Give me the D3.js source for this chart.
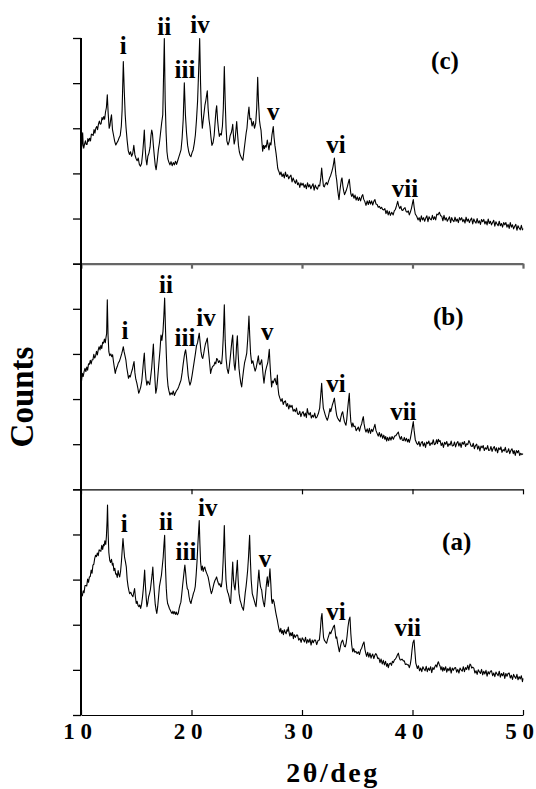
<!DOCTYPE html>
<html>
<head>
<meta charset="utf-8">
<script src="https://d3js.org/d3.v7.min.js"></script>
<style>
	body { margin: 0; background: #fff; }
	text { font-family: "Liberation Serif", "Times New Roman", serif; font-weight: bold; fill: #000; }
</style>
</head>
<body>
<svg id="svgChart" width="536" height="789"></svg>
<script>
// shared x axis (2theta in deg)
var thetaTicks = [10, 20, 30, 40, 50];
// unlabelled count ticks, same for every panel
var countTicks = [0, 100, 200, 300, 400, 500];
var peakNames = ["i", "ii", "iii", "iv", "v", "vi", "vii"];
var panelNames = ["(c)", "(b)", "(a)"];

// pattern (c), top panel : [2theta, counts]
var countsC = [
	[10.0,237],[10.05,255],[10.1,268],[10.15,290],[10.2,262],[10.25,256],[10.32,265],[10.4,272],[10.48,264],[10.55,264],
	[10.62,277],[10.7,271],[10.78,278],[10.86,272],[10.94,287],[11.02,286],[11.1,284],[11.18,297],[11.26,289],[11.34,300],
	[11.42,304],[11.5,297],[11.58,309],[11.66,316],[11.74,309],[11.82,310],[11.9,324],[11.98,319],[12.06,326],[12.14,320],
	[12.22,336],[12.3,346],[12.38,374],[12.46,333],[12.55,300],[12.62,306],[12.7,322],
	[12.76,330],[12.85,297],[12.95,284],[13.05,271],[13.15,263],[13.25,268],[13.35,272],[13.45,279],[13.55,284],[13.65,305],
	[13.72,340],[13.83,448],[13.92,380],[14.0,330],[14.08,300],[14.18,272],[14.28,250],[14.38,242],[14.48,248],[14.58,238],
	[14.68,244],[14.78,262],[14.88,241],[14.98,233],[15.08,228],[15.18,234],[15.28,220],[15.38,216],[15.48,222],[15.58,245],
	[15.66,270],[15.73,296],[15.8,258],[15.88,232],[15.96,219],[16.05,238],[16.15,245],[16.25,258],[16.33,283],[16.4,296],
	[16.47,288],[16.55,262],[16.63,240],[16.72,218],[16.8,208],[16.9,228],[17.0,252],[17.1,268],[17.2,290],[17.3,312],
	[17.4,330],[17.54,499],[17.62,360],[17.7,290],[17.78,248],[17.86,232],[17.95,225],[18.05,219],[18.15,226],[18.25,217],
	[18.35,224],[18.45,219],[18.55,227],[18.65,220],[18.75,228],[18.85,236],[18.95,244],[19.05,252],[19.15,278],[19.25,320],
	[19.35,401],[19.45,330],[19.55,290],[19.65,262],[19.75,248],[19.85,240],[19.95,237],[20.05,246],[20.15,252],[20.25,266],
	[20.35,285],[20.45,318],[20.55,360],[20.65,430],[20.74,499],[20.82,400],[20.9,330],[20.98,300],[21.06,318],[21.14,335],
	[21.22,352],[21.3,362],[21.38,375],[21.43,383],[21.5,345],[21.58,320],[21.67,304],[21.76,280],[21.85,262],[21.95,268],
	[22.05,284],[22.15,318],[22.22,340],[22.28,350],[22.36,318],[22.45,295],[22.52,282],[22.6,288],[22.7,285],[22.8,305],
	[22.88,345],[22.97,437],[23.05,360],[23.13,300],[23.2,272],[23.3,263],[23.4,270],[23.5,284],[23.6,290],[23.68,300],
	[23.73,309],[23.8,282],[23.86,265],[23.94,274],[24.02,296],[24.09,315],[24.16,290],[24.25,262],[24.33,248],[24.42,240],
	[24.5,236],[24.58,232],[24.65,229],[24.75,250],[24.85,270],[24.95,290],[25.02,300],[25.1,325],[25.2,347],[25.28,320],
	[25.38,322],[25.48,305],[25.6,315],[25.7,300],[25.81,311],[25.9,345],[25.99,413],[26.06,360],[26.15,318],[26.22,305],
	[26.29,296],[26.37,270],[26.44,249],[26.52,262],[26.6,255],[26.68,262],[26.76,258],[26.86,274],[26.94,262],[27.01,252],
	[27.1,268],[27.19,263],[27.28,285],[27.35,296],[27.4,304],[27.47,280],[27.55,262],[27.65,245],[27.73,228],[27.8,212],
	[27.86,207],[27.93,203],[28.0,197],[28.1,203],[28.2,193],[28.3,199],[28.4,190],[28.5,203],[28.6,193],[28.7,197],
	[28.8,188],[28.9,193],[29.0,196],[29.1,181],[29.2,190],[29.3,183],[29.4,178],[29.5,186],[29.6,175],[29.7,179],
	[29.8,169],[29.9,179],[30.0,174],[30.1,178],[30.2,169],[30.3,175],[30.4,166],[30.5,179],[30.6,170],[30.7,175],
	[30.8,166],[30.9,172],[31.0,177],[31.1,163],[31.2,174],[31.3,168],[31.4,165],[31.5,174],[31.6,172],[31.7,190],
	[31.78,212],[31.86,190],[31.94,172],[32.02,170],[32.1,176],
	[32.2,180],[32.3,175],[32.4,183],[32.5,190],[32.6,196],[32.7,204],[32.8,214],[32.86,222],[32.93,234],[33.0,215],
	[33.07,196],[33.14,185],[33.22,165],[33.3,150],[33.35,142],[33.42,160],[33.5,175],[33.56,186],[33.62,190],[33.7,172],
	[33.78,160],[33.85,153],[33.9,156],[34.0,162],[34.1,170],[34.2,180],[34.28,187],[34.35,170],[34.42,155],[34.5,149],
	[34.6,155],[34.7,145],[34.8,152],[34.9,141],[35.0,148],[35.1,140],[35.2,147],[35.3,139],[35.42,150],[35.5,153],
	[35.58,143],[35.68,138],[35.79,129],[35.9,139],[36.0,131],[36.1,140],[36.2,132],[36.3,139],[36.4,130],[36.5,138],
	[36.6,142],[36.7,132],[36.8,131],[36.9,125],[37.0,127],[37.1,122],[37.2,125],[37.3,120],[37.4,119],[37.5,122],
	[37.6,111],[37.7,118],[37.8,108],[37.9,116],[38.0,107],[38.12,114],[38.25,108],[38.35,117],[38.45,120],[38.55,128],
	[38.66,138],[38.75,128],[38.85,122],[38.95,127],[39.02,119],[39.12,118],[39.22,122],[39.32,124],[39.42,116],[39.52,114],
	[39.62,117],[39.71,108],[39.8,114],[39.9,122],[40.0,134],[40.07,142],[40.15,125],[40.25,110],[40.38,105],[40.5,97],
	[40.6,102],[40.7,93],[40.8,106],[40.9,97],[41.0,102],[41.1,94],[41.2,101],[41.3,106],[41.4,93],[41.5,104],
	[41.6,99],[41.7,97],[41.8,107],[41.9,98],[42.0,104],[42.1,97],[42.2,110],[42.3,108],[42.43,114],[42.55,106],
	[42.65,105],[42.75,95],[42.85,107],[42.95,97],[43.05,102],[43.15,94],[43.25,99],[43.35,104],[43.45,91],[43.55,102],
	[43.65,96],[43.75,93],[43.85,103],[43.95,94],[44.05,99],[44.15,91],[44.25,102],[44.35,97],[44.45,102],[44.55,93],
	[44.65,98],[44.75,90],[44.85,103],[44.95,94],[45.05,99],[45.15,91],[45.25,97],[45.35,101],[45.45,88],[45.55,99],
	[45.65,93],[45.75,90],[45.85,100],[45.95,90],[46.05,95],[46.15,87],[46.25,98],[46.35,93],[46.45,98],[46.55,88],
	[46.65,94],[46.75,86],[46.85,99],[46.95,89],[47.05,94],[47.15,86],[47.25,91],[47.35,96],[47.45,83],[47.55,93],
	[47.65,88],[47.75,84],[47.85,94],[47.95,84],[48.05,89],[48.15,81],[48.25,91],[48.35,86],[48.45,91],[48.55,81],
	[48.65,87],[48.75,78],[48.85,91],[48.95,81],[49.05,86],[49.15,77],[49.25,83],[49.35,87],[49.45,74],[49.55,84],
	[49.65,79],[49.75,75],[49.85,85],[49.95,75],[50.0,78]
];

// pattern (b), middle panel
var countsB = [
	[10.0,231],[10.06,243],[10.12,257],[10.2,250],[10.28,261],[10.36,268],[10.44,261],[10.52,271],[10.6,264],[10.68,278],
	[10.76,277],[10.84,286],[10.92,278],[11.0,287],[11.08,287],[11.16,299],[11.24,291],[11.32,295],[11.4,306],[11.48,298],
	[11.56,309],[11.64,316],[11.72,309],[11.8,319],[11.88,312],[11.96,326],[12.04,324],[12.12,333],[12.2,325],[12.26,336],
	[12.32,345],[12.38,420],[12.45,340],[12.52,305],[12.6,296],[12.7,300],
	[12.78,294],[12.86,298],[12.95,281],[13.03,268],[13.1,257],[13.18,266],[13.28,272],[13.38,280],[13.48,284],[13.58,292],
	[13.68,300],[13.76,308],[13.83,316],[13.9,305],[13.98,296],[14.06,287],[14.14,270],[14.22,258],[14.3,246],[14.38,252],
	[14.46,249],[14.55,258],[14.65,266],[14.73,276],[14.8,283],[14.88,258],[14.96,244],[15.05,236],[15.14,225],[15.22,213],
	[15.3,218],[15.4,226],[15.5,240],[15.58,262],[15.66,285],[15.73,302],[15.8,268],[15.88,245],[15.96,231],[16.05,240],
	[16.13,236],[16.22,232],[16.3,248],[16.4,270],[16.48,298],[16.55,322],[16.62,280],[16.7,240],[16.77,213],[16.86,225],
	[16.95,250],[17.05,280],[17.15,308],[17.24,342],[17.32,330],[17.42,350],[17.5,385],[17.57,424],[17.64,360],[17.72,300],
	[17.8,250],[17.88,228],[17.96,218],[18.05,209],[18.15,214],[18.25,210],[18.35,218],[18.45,208],[18.55,214],[18.65,219],
	[18.75,222],[18.85,228],[18.95,235],[19.05,242],[19.15,258],[19.25,278],[19.35,296],[19.42,305],[19.47,309],[19.54,295],
	[19.62,275],[19.7,252],[19.78,240],[19.86,231],[19.95,238],[20.05,252],[20.15,268],[20.25,284],[20.35,300],[20.45,318],
	[20.55,325],[20.62,335],[20.7,346],[20.78,325],[20.86,305],[20.94,294],[21.02,290],[21.1,300],[21.18,312],[21.26,322],
	[21.34,328],[21.43,335],[21.5,315],[21.58,296],[21.66,275],[21.73,257],[21.8,265],[21.9,272],[22.04,275],[22.12,282],
	[22.2,278],[22.28,290],[22.37,287],[22.45,281],[22.55,285],[22.65,278],[22.73,279],[22.8,300],[22.88,340],[22.97,409],
	[23.05,330],[23.13,290],[23.22,268],[23.33,257],[23.42,272],[23.5,290],[23.58,310],[23.66,330],[23.73,342],[23.8,300],
	[23.87,275],[23.94,264],[24.02,290],[24.08,320],[24.15,340],[24.22,300],[24.3,268],[24.38,250],[24.46,236],[24.54,227],
	[24.62,245],[24.7,262],[24.8,280],[24.9,290],[25.0,302],[25.08,330],[25.15,360],[25.2,384],[25.27,340],[25.35,300],
	[25.45,279],[25.55,285],[25.66,272],[25.76,262],[25.86,270],[25.95,282],[26.05,296],[26.12,280],[26.2,276],[26.28,282],
	[26.35,287],[26.42,270],[26.5,248],[26.56,235],[26.63,250],[26.7,262],[26.8,272],[26.9,280],[26.98,296],[27.04,310],
	[27.1,280],[27.17,252],[27.25,227],[27.32,240],[27.4,236],[27.48,242],[27.56,246],[27.62,238],[27.7,232],[27.77,253],
	[27.83,225],[27.9,210],[28.0,202],[28.1,195],[28.2,201],[28.3,188],[28.4,194],[28.5,196],[28.6,184],[28.7,190],
	[28.8,178],[28.9,187],[29.0,182],[29.1,186],[29.2,173],[29.3,177],[29.4,172],[29.5,180],[29.6,167],[29.7,166],
	[29.8,173],[29.9,161],[30.0,169],[30.1,172],[30.2,162],[30.3,169],[30.4,159],[30.48,179],[30.56,169],[30.65,165],
	[30.75,170],[30.85,158],[30.95,164],[31.05,160],[31.15,169],[31.25,158],[31.35,160],[31.48,168],[31.6,180],[31.7,210],
	[31.78,235],[31.85,205],[31.93,180],[32.02,172],[32.1,165],[32.2,158],[32.29,153],[32.38,160],[32.46,170],[32.53,179],
	[32.6,172],[32.68,180],[32.76,188],[32.85,195],[32.93,202],[33.0,188],[33.07,175],[33.14,164],[33.22,158],[33.3,155],
	[33.37,152],[33.44,150],[33.52,160],[33.6,168],[33.68,172],[33.76,160],[33.84,150],[33.92,145],[33.98,142],[34.05,155],
	[34.12,175],[34.2,195],[34.28,213],[34.35,175],[34.42,150],[34.52,138],[34.6,147],[34.7,139],[34.8,140],[34.9,130],
	[35.0,134],[35.1,138],[35.2,129],[35.3,139],[35.4,145],[35.48,155],[35.55,161],[35.62,145],[35.7,134],[35.79,127],
	[35.9,134],[36.0,125],[36.1,135],[36.2,124],[36.3,133],[36.4,128],[36.5,136],[36.6,144],[36.7,130],[36.8,124],
	[36.9,118],[37.0,126],[37.1,116],[37.2,123],[37.3,113],[37.4,120],[37.5,111],[37.58,117],[37.66,107],[37.75,115],
	[37.85,108],[37.95,116],[38.05,109],[38.15,117],[38.27,111],[38.38,118],[38.5,119],[38.6,123],[38.72,127],[38.8,118],
	[38.9,111],[39.0,117],[39.08,109],[39.17,108],[39.26,115],[39.35,107],[39.45,113],[39.55,105],[39.63,111],[39.71,104],
	[39.8,112],[39.9,125],[40.0,140],[40.07,150],[40.15,130],[40.25,110],[40.38,102],[40.48,99],[40.58,106],[40.68,95],
	[40.78,103],[40.88,106],[40.98,96],[41.08,103],[41.18,93],[41.28,105],[41.38,101],[41.48,107],[41.58,97],[41.68,103],
	[41.78,100],[41.88,110],[41.98,99],[42.08,101],[42.18,110],[42.26,101],[42.34,111],[42.42,106],[42.5,108],[42.6,97],
	[42.7,103],[42.8,93],[42.9,104],[43.0,100],[43.1,106],[43.2,95],[43.3,101],[43.4,98],[43.5,107],[43.6,96],
	[43.7,97],[43.8,105],[43.9,94],[44.0,102],[44.1,106],[44.2,96],[44.3,103],[44.4,93],[44.5,104],[44.6,100],
	[44.7,106],[44.8,95],[44.9,101],[45.0,99],[45.1,108],[45.2,103],[45.3,96],[45.4,95],[45.5,102],[45.6,90],
	[45.7,97],[45.81,100],[45.9,89],[46.0,96],[46.1,85],[46.2,96],[46.3,92],[46.4,97],[46.5,86],[46.6,92],
	[46.71,89],[46.8,97],[46.9,86],[47.0,87],[47.1,95],[47.2,84],[47.3,91],[47.4,95],[47.5,85],[47.6,92],
	[47.7,81],[47.8,92],[47.92,88],[48.0,94],[48.1,82],[48.2,88],[48.3,85],[48.4,93],[48.5,82],[48.6,83],
	[48.7,90],[48.8,79],[48.9,86],[49.0,90],[49.12,79],[49.2,86],[49.3,75],[49.4,86],[49.5,81],[49.6,86],
	[49.7,75],[49.8,80],[49.9,77],[50.0,79]
];

// pattern (a), bottom panel
var countsA = [
	[10.0,247],[10.06,268],[10.12,264],[10.2,275],[10.28,271],[10.36,287],[10.44,287],[10.52,286],[10.6,301],[10.68,294],
	[10.76,306],[10.84,307],[10.92,321],[11.0,314],[11.08,332],[11.16,334],[11.24,347],[11.32,354],[11.4,351],[11.48,359],
	[11.56,353],[11.64,366],[11.72,364],[11.8,363],[11.88,376],[11.96,367],[12.04,378],[12.1,375],[12.16,386],[12.24,378],
	[12.3,396],[12.36,430],[12.4,465],[12.46,400],[12.52,360],[12.6,343],[12.68,338],[12.76,345],[12.84,332],[12.9,336],
	[12.98,320],[13.06,325],[13.14,312],[13.2,313],[13.28,305],[13.36,320],[13.44,310],[13.5,306],[13.58,318],[13.66,340],
	[13.74,370],[13.8,391],[13.87,370],[13.94,350],[14.02,340],[14.1,328],[14.18,300],[14.26,285],[14.34,275],[14.4,269],
	[14.5,272],[14.6,266],[14.7,262],[14.78,272],[14.85,280],[14.92,262],[15.0,247],[15.08,252],[15.16,243],[15.24,240],
	[15.32,244],[15.4,236],[15.48,245],[15.56,260],[15.64,280],[15.7,300],[15.76,321],[15.82,290],[15.9,260],[15.97,240],
	[16.04,248],[16.12,262],[16.2,269],[16.28,278],[16.36,295],[16.44,312],[16.5,328],[16.56,300],[16.64,270],[16.72,245],
	[16.8,232],[16.86,225],[16.94,240],[17.02,262],[17.1,285],[17.2,299],[17.28,310],[17.36,330],[17.44,350],[17.5,375],
	[17.57,398],[17.64,330],[17.72,280],[17.78,258],[17.84,247],[17.92,242],[18.0,236],[18.08,232],[18.16,228],[18.24,225],
	[18.32,230],[18.4,224],[18.48,229],[18.56,223],[18.64,228],[18.72,222],[18.8,225],[18.88,236],[18.96,244],[19.04,250],
	[19.12,268],[19.2,288],[19.28,306],[19.34,320],[19.4,332],[19.47,315],[19.55,292],[19.62,280],[19.7,277],[19.78,262],
	[19.86,252],[19.95,247],[20.02,255],[20.1,262],[20.18,270],[20.26,275],[20.34,285],[20.42,310],[20.5,340],[20.58,380],
	[20.65,410],[20.7,431],[20.76,380],[20.82,340],[20.9,321],[20.98,330],[21.06,318],[21.14,326],[21.2,328],[21.28,320],
	[21.36,315],[21.44,310],[21.5,306],[21.58,296],[21.66,285],[21.74,275],[21.8,269],[21.88,275],[21.96,284],[22.04,292],
	[22.12,298],[22.2,302],[22.27,306],[22.35,298],[22.43,292],[22.5,288],[22.57,291],[22.64,284],[22.7,284],[22.78,300],
	[22.86,340],[22.92,380],[22.97,420],[23.04,350],[23.12,300],[23.2,280],[23.27,272],[23.33,269],[23.4,262],[23.47,252],
	[23.54,247],[23.6,275],[23.67,310],[23.73,339],[23.8,300],[23.87,285],[23.94,277],[24.0,295],[24.08,320],[24.15,343],
	[24.22,300],[24.3,270],[24.4,254],[24.48,248],[24.56,240],[24.64,236],[24.7,232],[24.78,250],[24.86,270],[24.94,285],
	[25.0,299],[25.08,320],[25.16,350],[25.22,380],[25.26,398],[25.32,350],[25.4,300],[25.5,269],[25.58,262],[25.66,255],
	[25.76,246],[25.84,240],[25.92,262],[26.0,290],[26.06,310],[26.1,321],[26.16,300],[26.24,285],[26.3,280],[26.35,277],
	[26.42,262],[26.5,250],[26.6,240],[26.68,260],[26.76,285],[26.86,306],[26.94,285],[27.02,300],[27.1,324],[27.18,290],
	[27.25,255],[27.3,247],[27.38,256],[27.46,251],[27.54,240],[27.62,228],[27.7,218],[27.77,210],[27.84,200],[27.92,190],
	[28.0,184],[28.08,192],[28.16,181],[28.24,187],[28.32,178],[28.4,189],[28.48,184],[28.56,180],[28.64,189],[28.7,186],
	[28.76,195],[28.82,184],[28.9,175],[28.98,182],[29.06,176],[29.14,183],[29.22,169],[29.3,178],[29.4,172],[29.5,177],
	[29.6,177],[29.7,166],[29.82,170],[29.92,161],[30.02,171],[30.12,167],[30.22,162],[30.32,172],[30.42,159],[30.52,167],
	[30.62,161],[30.72,169],[30.82,155],[30.92,166],[31.02,160],[31.12,166],[31.22,166],[31.33,156],[31.45,165],[31.57,166],
	[31.65,185],[31.74,215],[31.81,225],[31.88,195],[31.95,172],[32.02,166],[32.1,163],[32.18,160],[32.23,159],[32.32,168],
	[32.42,176],[32.52,184],[32.6,180],[32.68,186],[32.76,190],[32.85,196],[32.93,199],[33.0,185],[33.07,170],[33.14,173],
	[33.22,160],[33.3,150],[33.38,140],[33.46,150],[33.55,160],[33.62,164],[33.68,166],[33.76,158],[33.84,152],[33.92,151],
	[34.0,160],[34.08,175],[34.16,195],[34.25,210],[34.34,217],[34.42,180],[34.5,155],[34.59,140],[34.68,147],[34.78,139],
	[34.88,141],[34.98,136],[35.1,140],[35.2,134],[35.3,144],[35.4,148],[35.5,156],[35.61,162],[35.7,145],[35.78,136],
	[35.85,130],[35.95,139],[36.05,128],[36.15,137],[36.25,126],[36.31,131],[36.4,135],[36.5,125],[36.6,133],[36.68,136],
	[36.76,133],[36.86,125],[36.96,126],[37.06,116],[37.16,124],[37.26,113],[37.36,121],[37.46,111],[37.56,119],[37.66,108],
	[37.74,114],[37.81,105],[37.9,113],[38.0,115],[38.1,110],[38.18,119],[38.27,116],[38.36,122],[38.45,124],[38.55,128],
	[38.63,133],[38.72,137],[38.8,128],[38.88,122],[38.96,122],[39.05,124],[39.17,120],[39.26,120],[39.35,112],[39.45,113],
	[39.55,111],[39.63,111],[39.71,105],[39.8,112],[39.88,125],[39.96,145],[40.04,160],[40.14,166],[40.22,140],[40.3,115],
	[40.44,103],[40.54,109],[40.64,98],[40.74,104],[40.84,96],[40.94,107],[41.04,102],[41.14,98],[41.24,108],[41.34,96],
	[41.44,104],[41.54,99],[41.64,107],[41.74,94],[41.84,105],[41.94,101],[42.04,108],[42.12,111],[42.2,106],[42.27,114],
	[42.34,118],[42.42,112],[42.5,108],[42.58,100],[42.66,107],[42.74,97],[42.82,105],[42.9,99],[43.0,107],[43.1,95],
	[43.2,103],[43.3,98],[43.4,106],[43.5,93],[43.6,104],[43.7,99],[43.8,104],[43.9,105],[44.0,95],[44.1,101],
	[44.2,93],[44.3,104],[44.4,100],[44.5,97],[44.6,107],[44.7,96],[44.8,105],[44.9,101],[45.0,110],[45.1,100],
	[45.2,113],[45.27,111],[45.36,104],[45.45,106],[45.55,104],[45.65,93],[45.75,98],[45.85,90],[45.95,100],[46.05,96],
	[46.15,92],[46.25,101],[46.35,89],[46.45,97],[46.55,91],[46.65,99],[46.75,86],[46.85,96],[46.95,91],[47.05,97],
	[47.15,98],[47.25,87],[47.35,93],[47.45,85],[47.55,95],[47.65,91],[47.75,87],[47.85,97],[47.95,84],[48.05,92],
	[48.15,87],[48.25,94],[48.35,81],[48.45,92],[48.55,86],[48.65,92],[48.75,93],[48.85,82],[48.95,88],[49.05,79],
	[49.15,90],[49.25,85],[49.35,81],[49.45,90],[49.55,78],[49.65,85],[49.75,80],[49.85,87],[49.95,74],[50.0,81]
];

// anchors of the peak labels i..vii, [2theta, counts] (baseline)
var peakLabelsC = [[13.83,465],[17.54,507],[19.41,412],[20.77,511],[27.4,319],[33.08,245],[39.32,148]];
var peakLabelsB = [[13.98,333],[17.69,435],[19.41,318],[21.31,361],[26.86,331],[33.08,216],[39.17,153]];
var peakLabelsA = [[13.92,406],[17.69,409],[19.5,343],[21.47,442],[26.65,327],[33.08,210],[39.57,175]];
// anchors of the panel tags (c) (b) (a)
var tagLabels = [[42.94,431],[43.24,364],[44.0,365]];

class StackedXrd{
	constructor(svgId, panels) {
		/*
			svgId  - SVG selector
			panels - [{name, counts, peaks, tag}] from top to bottom
		*/
		this.svg = d3.select(svgId);
		this.left = 81;
		this.right = 523;
		this.top = 38;
		this.bottom = 715;
		this.fontSize = 25;
		this.panelHeight = (this.bottom - this.top)/panels.length;

		this.x = d3.scaleLinear().domain([10, 50]).range([this.left, this.right]);

		var that = this;
		panels.forEach(function(p, i){
			that._drawPanel(p, i, i == panels.length - 1);
		});
		this._drawFrame();
		this._drawTitles();
	}
	_drawPanel(p, i, last){
		var that = this;
		var y0 = this.top + i*this.panelHeight;
		var y = d3.scaleLinear().domain([0, 500]).range([y0 + this.panelHeight, y0]);
		var g = this.svg.append("g").attr("class", "panel");

		//unlabelled ticks on the left
		var yAxis = g.append("g")
			.attr("transform", "translate(" + this.left + ",0)")
			.call(d3.axisLeft(y).tickValues(countTicks).tickSize(8).tickFormat(""));
		yAxis.select(".domain").remove();
		yAxis.selectAll("line").attr("stroke-width", 1.3);

		//bottom line of the panel, the last one carries the numbers ("1 0", "2 0" ...)
		var xAxisFn = d3.axisBottom(this.x).tickValues(thetaTicks).tickSizeOuter(0);
		if (last) {
			xAxisFn.tickSizeInner(-5).tickFormat(function(d){ return String(d).split("").join(" "); });
		} else {
			xAxisFn.tickSizeInner(5).tickFormat("");
		}
		var xAxis = g.append("g")
			.attr("transform", "translate(0," + (y0 + this.panelHeight) + ")")
			.call(xAxisFn);
		// the join of (c) and (b) prints grey and heavier in the original
		if (i == 0) {
			xAxis.selectAll("path,line").attr("stroke", "#666").attr("stroke-width", 2.2);
		} else {
			xAxis.selectAll("path,line").attr("stroke-width", 1.2);
		}
		xAxis.selectAll("text")
			.attr("y", 8)
			.attr("dx", -4)
			.attr("dy", "0.71em")
			.style("font-family", "\"Liberation Serif\", serif")
			.style("font-weight", "bold")
			.style("font-size", "23px")
			.attr("fill", "#000");

		var line = d3.line()
			.x(function(d){ return that.x(d[0]); })
			.y(function(d){ return y(d[1]); });
		g.append("path")
			.datum(p.counts)
			.attr("class", "pattern")
			.attr("d", line)
			.attr("fill", "none")
			.attr("stroke", "#000")
			.attr("stroke-width", 1.1)
			.attr("stroke-linejoin", "round");

		g.selectAll(".peakLabel")
			.data(p.peaks)
			.enter().append("text")
			.attr("class", "peakLabel")
			.attr("x", function(d){ return that.x(d[0]); })
			.attr("y", function(d){ return y(d[1]); })
			.attr("text-anchor", "middle")
			.style("font-size", this.fontSize + "px")
			.text(function(d, k){ return peakNames[k]; });

		g.append("text")
			.attr("x", this.x(p.tag[0]))
			.attr("y", y(p.tag[1]))
			.attr("text-anchor", "middle")
			.style("font-size", this.fontSize + "px")
			.text(p.name);
	}
	_drawFrame(){
		//one left axis line through all three panels
		this.svg.append("line")
			.attr("x1", this.left).attr("x2", this.left)
			.attr("y1", this.top).attr("y2", this.bottom)
			.attr("stroke", "#000")
			.attr("stroke-width", 2);
	}
	_drawTitles(){
		this.svg.append("text")
			.attr("transform", "translate(33," + 397 + ") rotate(-90)")
			.attr("text-anchor", "middle")
			.style("font-size", "33px")
			.text("Counts");
		this.svg.append("text")
			.attr("x", 333)
			.attr("y", 782)
			.attr("text-anchor", "middle")
			.style("font-size", "28px")
			.style("letter-spacing", "2.5px")
			.text("2θ/deg");
	}
}

var chart = new StackedXrd("#svgChart", [
	{name: panelNames[0], counts: countsC, peaks: peakLabelsC, tag: tagLabels[0]},
	{name: panelNames[1], counts: countsB, peaks: peakLabelsB, tag: tagLabels[1]},
	{name: panelNames[2], counts: countsA, peaks: peakLabelsA, tag: tagLabels[2]}
]);
</script>
</body>
</html>
